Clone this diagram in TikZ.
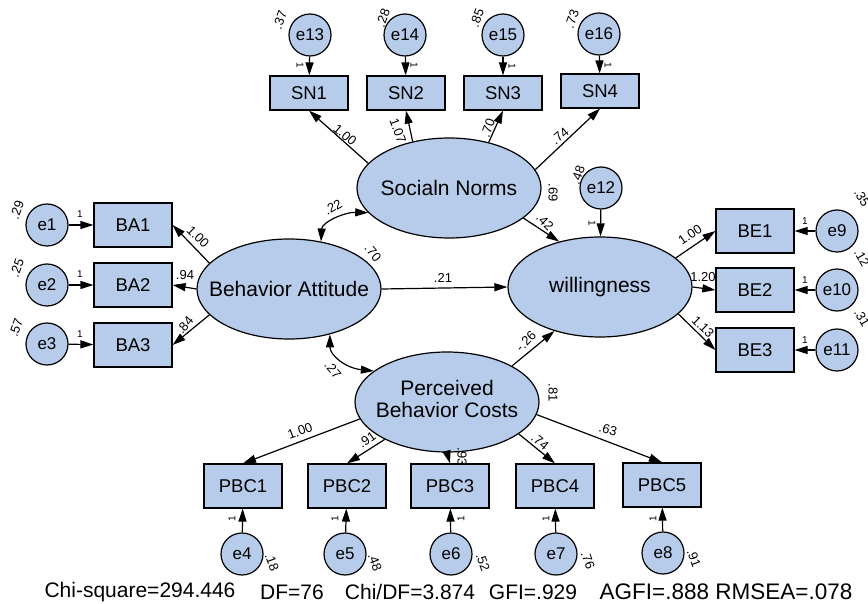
\documentclass[tikz,border=0pt]{standalone}
\usepackage{fontspec}
\setmainfont{Liberation Sans}
\usetikzlibrary{shapes.geometric,arrows.meta}
\definecolor{amosblue}{RGB}{182,204,234}
\newcommand{\lat}[1]{\makebox[0pt]{#1}}
\tikzset{
  latent/.style={ellipse,draw,fill=amosblue,line width=1.2pt,minimum width=184pt,minimum height=100pt,inner sep=0pt,font=\fontsize{21}{24}\selectfont},
  observed/.style={rectangle,draw,fill=amosblue,line width=1.2pt,minimum width=78pt,minimum height=44pt,inner sep=0pt,font=\fontsize{18.5}{22}\selectfont},
  errvar/.style={circle,draw,fill=amosblue,line width=1.2pt,minimum size=42pt,inner sep=0pt,font=\fontsize{17}{20}\selectfont},
  coef/.style={inner sep=0pt,font=\fontsize{13}{15}\selectfont},
  one/.style={inner sep=0pt,font=\fontsize{10}{12}\selectfont},
  reg/.style={line width=1.2pt,-{Triangle[length=13pt,width=8pt]}},
  cov/.style={line width=1.2pt,{Triangle[length=13pt,width=8pt]}-{Triangle[length=13pt,width=8pt]}},
  fit/.style={inner sep=0pt,font=\fontsize{21}{24}\selectfont}
}
\begin{document}
\begin{tikzpicture}[x=1pt,y=1pt,yscale=-1]
\useasboundingbox (0,0) rectangle (868,604);

% Latent variables
\node [latent] (SN) at (449,188) {\lat{Socialn Norms}};
\node [latent] (BA) at (289,289) {\lat{Behavior Attitude}};
\node [latent] (W) at (600,287) {\lat{willingness}};
\node [latent] (PBC) at (447,402) {\lat{\begin{tabular}{@{}c@{}}Perceived\\[-2pt]Behavior Costs\end{tabular}}};

% Social norm indicators
\node [observed,minimum height=34pt] (SN1) at (309,93) {SN1};
\node [observed,minimum height=34pt] (SN2) at (406,93) {SN2};
\node [observed,minimum height=34pt] (SN3) at (503,93) {SN3};
\node [observed,minimum height=34pt] (SN4) at (600,91) {SN4};
\node [errvar] (e13) at (310,35) {e13};
\node [errvar] (e14) at (405,35) {e14};
\node [errvar] (e15) at (503,35) {e15};
\node [errvar] (e16) at (599,34) {e16};

% Attitude indicators
\node [observed] (BA1) at (133,225) {BA1};
\node [observed] (BA2) at (133,285) {BA2};
\node [observed] (BA3) at (133,345) {BA3};
\node [errvar] (e1) at (47,225) {e1};
\node [errvar] (e2) at (47,285) {e2};
\node [errvar] (e3) at (47,344) {e3};

% Willingness indicators
\node [observed] (BE1) at (755,231) {BE1};
\node [observed] (BE2) at (755,290) {BE2};
\node [observed] (BE3) at (755,350) {BE3};
\node [errvar] (e9) at (837,231) {e9};
\node [errvar] (e10) at (837,290) {e10};
\node [errvar] (e11) at (837,350) {e11};
\node [errvar] (e12) at (601,188) {e12};

% Cost indicators
\node [observed] (PBC1) at (243,486) {PBC1};
\node [observed] (PBC2) at (347,486) {PBC2};
\node [observed] (PBC3) at (450,486) {PBC3};
\node [observed] (PBC4) at (555,486) {PBC4};
\node [observed] (PBC5) at (662,485) {PBC5};
\node [errvar] (e4) at (242,554) {e4};
\node [errvar] (e5) at (345,554) {e5};
\node [errvar] (e6) at (451,554) {e6};
\node [errvar] (e7) at (556,554) {e7};
\node [errvar] (e8) at (663,553) {e8};

% Loadings
\draw [reg] (SN.163) -- (SN1.south);
\draw [reg] (SN.128) -- (SN2.south);
\draw [reg] (SN.49) -- (SN3.south);
\draw [reg] (SN.12) -- (SN4.south);
\draw [reg] (BA.162) -- (BA1.east);
\draw [reg] (BA.west) -- (BA2.east);
\draw [reg] (BA.198) -- (BA3.east);
\draw [reg] (W.21) -- (BE1.west);
\draw [reg] (W.east) -- (BE2.west);
\draw [reg] (W.-19) -- (BE3.west);
\draw [reg] (PBC.191) -- (PBC1.north);
\draw [reg] (PBC.211) -- (PBC2.north);
\draw [reg] (PBC.south) -- (PBC3.north);
\draw [reg] (PBC.-24) -- (PBC4.north);
\draw [reg] (PBC.-8) -- (PBC5.north);

% Structural paths
\draw [reg] (BA.east) -- (W.west);
\draw [reg] (SN.-22) -- (W.132);
\draw [reg] (PBC.29) -- (W.224);
\draw [cov] (SN.197) .. controls (345,212) and (322,222) .. (BA.56);
\draw [cov] (BA.-48) .. controls (330,355) and (345,368) .. (PBC.157);

% Error terms
\foreach \e/\v in {e13/SN1,e14/SN2,e15/SN3,e16/SN4,e1/BA1,e2/BA2,e3/BA3,e9/BE1,e10/BE2,e11/BE3,e12/W,e4/PBC1,e5/PBC2,e6/PBC3,e7/PBC4,e8/PBC5}
  \draw [reg] (\e) -- (\v);

% Fixed ones
\node [one,rotate=-90] (o13) at (300,65) {1};
\node [one,rotate=-90] (o14) at (414,65) {1};
\node [one,rotate=-90] (o15) at (512,66) {1};
\node [one,rotate=-90] (o16) at (608,65) {1};
\node [one,rotate=-90] (o12) at (592,223) {1};
\node [one] (o1) at (80,214) {1};
\node [one] (o2) at (80,274) {1};
\node [one] (o3) at (80,334) {1};
\node [one] (o9) at (805,221) {1};
\node [one] (o10) at (805,280) {1};
\node [one] (o11) at (805,340) {1};
\node [one,rotate=90] (o4) at (232,519) {1};
\node [one,rotate=90] (o5) at (335,519) {1};
\node [one,rotate=90] (o6) at (461,519) {1};
\node [one,rotate=90] (o7) at (546,519) {1};
\node [one,rotate=90] (o8) at (653,519) {1};

% Variances
\node [coef,rotate=70] (v13) at (280,20) {.37};
\node [coef,rotate=70] (v14) at (383,18) {.28};
\node [coef,rotate=70] (v15) at (477,18) {.85};
\node [coef,rotate=70] (v16) at (572,19) {.73};
\node [coef,rotate=70] (v12) at (578,175) {.48};
\node [coef,rotate=70] (v1) at (17,210) {.29};
\node [coef,rotate=70] (v2) at (17,268) {.25};
\node [coef,rotate=70] (v3) at (16,328) {.57};
\node [coef,rotate=-60] (v9) at (862,198) {.35};
\node [coef,rotate=-60] (v10) at (862,258) {.12};
\node [coef,rotate=-60] (v11) at (862,318) {.31};
\node [coef,rotate=-70] (v4) at (272,562) {.18};
\node [coef,rotate=-70] (v5) at (375,562) {.48};
\node [coef,rotate=-70] (v6) at (483,562) {.52};
\node [coef,rotate=-70] (v7) at (588,560) {.76};
\node [coef,rotate=-70] (v8) at (694,558) {.91};

% Coefficients
\node [coef,rotate=-40] (cSN1) at (345,135) {1.00};
\node [coef,rotate=-70] (cSN2) at (398,131) {1.07};
\node [coef,rotate=70] (cSN3) at (488,128) {.70};
\node [coef,rotate=40] (cSN4) at (560,136) {.74};
\node [coef,rotate=-45] (cBA1) at (198,237) {1.00};
\node [coef] (cBA2) at (185,275) {.94};
\node [coef,rotate=50] (cBA3) at (185,325) {.84};
\node [coef,rotate=35] (cBE1) at (690,235) {1.00};
\node [coef] (cBE2) at (703,277) {1.20};
\node [coef,rotate=-45] (cBE3) at (703,327) {1.13};
\node [coef,rotate=20] (cPBC1) at (300,431) {1.00};
\node [coef,rotate=35] (cPBC2) at (367,440) {.91};
\node [coef,rotate=-90] (cPBC3) at (462,457) {.93};
\node [coef,rotate=-40] (cPBC4) at (540,442) {.74};
\node [coef,rotate=-15] (cPBC5) at (608,430) {.63};
\node [coef,rotate=-90] (rSN) at (553,193) {.69};
\node [coef,rotate=-45] (cSNW) at (545,222) {.42};
\node [coef,rotate=30] (cSNBA) at (333,207) {.22};
\node [coef,rotate=-50] (rBA) at (373,253) {.70};
\node [coef] (cBAW) at (443,278) {.21};
\node [coef,rotate=45] (cPBCW) at (526,341) {-.26};
\node [coef,rotate=-50] (cBAPBC) at (333,370) {.27};
\node [coef,rotate=-90] (rPBC) at (553,393) {.81};

% Fit indices
\node [fit] (fit1) at (140,592) {Chi-square=294.446};
\node [fit] (fit2) at (292,592) {DF=76};
\node [fit] (fit3) at (410,592) {Chi/DF=3.874};
\node [fit] (fit4) at (533,592) {GFI=.929};
\node [fit,font=\fontsize{22.5}{26}\selectfont] (fit5) at (726,592) {AGFI=.888 RMSEA=.078};

\end{tikzpicture}
\end{document}
